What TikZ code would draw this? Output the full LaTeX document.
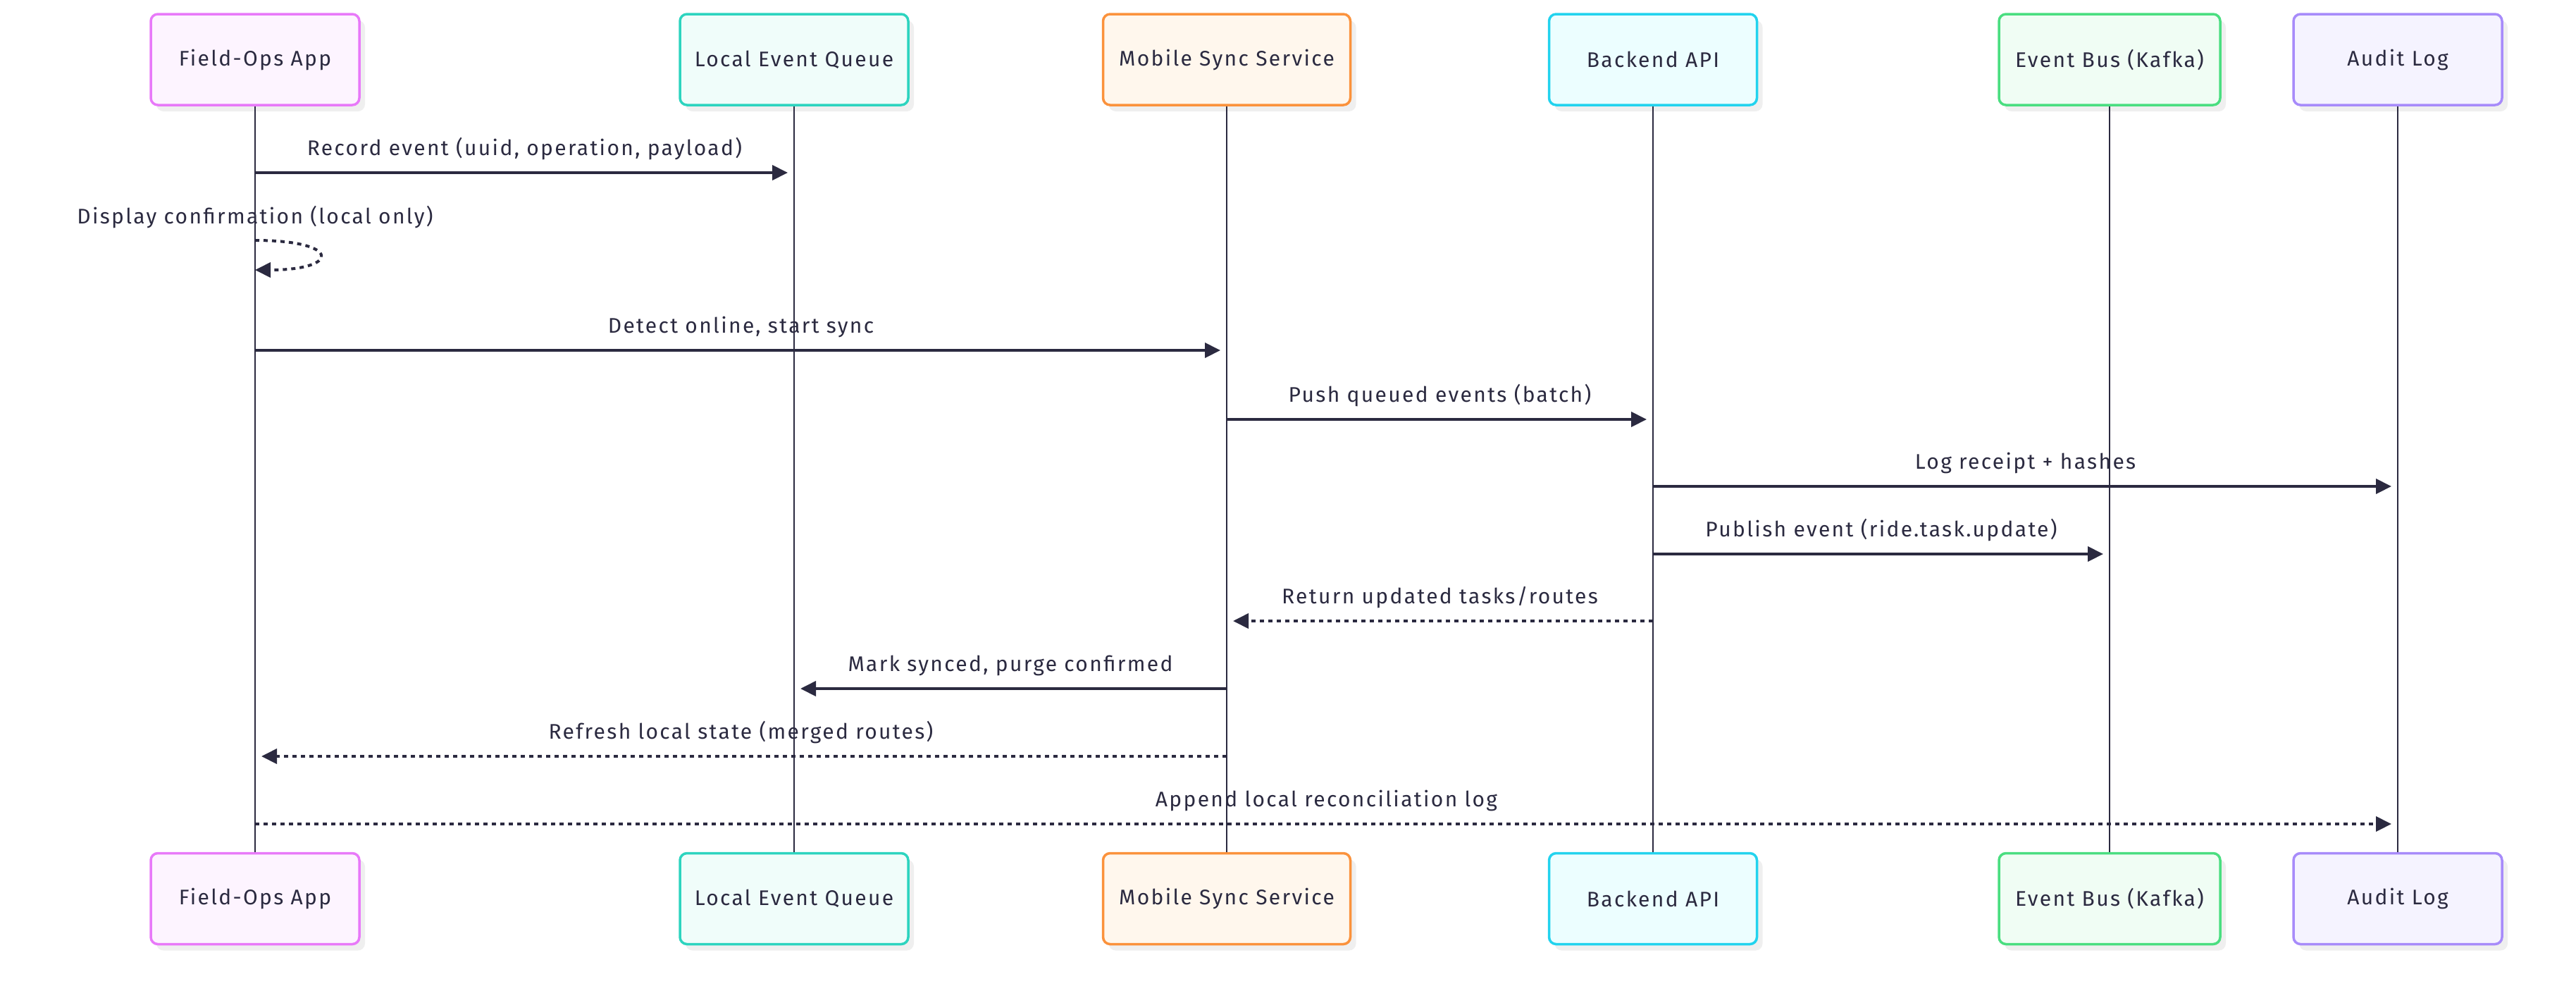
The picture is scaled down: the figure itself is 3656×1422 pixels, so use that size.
\documentclass[tikz,border=0pt]{standalone}
\usepackage{fontspec}
\setmainfont{Fira Sans}[LetterSpace=7.8]
\usetikzlibrary{arrows.meta,shadows,calc}

\definecolor{ink}{HTML}{2B2A40}
\definecolor{shade}{HTML}{EFEFEF}
\definecolor{appline}{HTML}{E879F9}
\definecolor{appfill}{HTML}{FDF4FF}
\definecolor{queueline}{HTML}{2DD4BF}
\definecolor{queuefill}{HTML}{F0FDFA}
\definecolor{syncline}{HTML}{FB923C}
\definecolor{syncfill}{HTML}{FFF7ED}
\definecolor{apiline}{HTML}{22D3EE}
\definecolor{apifill}{HTML}{ECFEFF}
\definecolor{busline}{HTML}{4ADE80}
\definecolor{busfill}{HTML}{F0FDF4}
\definecolor{auditline}{HTML}{A78BFA}
\definecolor{auditfill}{HTML}{F5F3FF}

\tikzset{
	actor/.style 2 args={draw=#1, fill=#2, line width=3.5pt, rounded corners=10pt,
		minimum height=129pt, text=ink,
		drop shadow={shadow xshift=8pt, shadow yshift=-9pt, fill=shade, opacity=1}},
	lifeline/.style={draw=ink, line width=2.5pt},
	msg/.style={draw=ink, line width=4pt, -{Triangle[length=22pt,width=21pt]}, shorten >=9pt},
	reply/.style={msg, dash pattern=on 6pt off 6pt},
	msgtext/.style={text=ink, anchor=base, yshift=25pt}
}

\begin{document}
\begin{tikzpicture}[x=1pt, y=-1pt, font=\fontsize{30}{36}\selectfont]
			%%%%% START %%%%%
			\useasboundingbox (0,0) rectangle (3656,1422);
			
			% actors, top row
			\node[actor={appline}{appfill}, minimum width=296pt] (app) at (362,84.5) {Field-Ops App};
			\node[actor={queueline}{queuefill}, minimum width=324pt] (queue) at (1127,84.5) {Local Event Queue};
			\node[actor={syncline}{syncfill}, minimum width=351pt] (sync) at (1741,84.5) {Mobile Sync Service};
			\node[actor={apiline}{apifill}, minimum width=295pt] (api) at (2346,84.5) {Backend API};
			\node[actor={busline}{busfill}, minimum width=314pt] (bus) at (2994,84.5) {Event Bus (Kafka)};
			\node[actor={auditline}{auditfill}, minimum width=296pt] (audit) at (3403,84.5) {Audit Log};
			
			% actors, bottom row
			\node[actor={appline}{appfill}, minimum width=296pt] (appB) at (362,1275) {Field-Ops App};
			\node[actor={queueline}{queuefill}, minimum width=324pt] (queueB) at (1127,1275) {Local Event Queue};
			\node[actor={syncline}{syncfill}, minimum width=351pt] (syncB) at (1741,1275) {Mobile Sync Service};
			\node[actor={apiline}{apifill}, minimum width=295pt] (apiB) at (2346,1275) {Backend API};
			\node[actor={busline}{busfill}, minimum width=314pt] (busB) at (2994,1275) {Event Bus (Kafka)};
			\node[actor={auditline}{auditfill}, minimum width=296pt] (auditB) at (3403,1275) {Audit Log};
			
			% lifelines
			\draw[lifeline] (app.south) -- (appB.north);
			\draw[lifeline] (queue.south) -- (queueB.north);
			\draw[lifeline] (sync.south) -- (syncB.north);
			\draw[lifeline] (api.south) -- (apiB.north);
			\draw[lifeline] (bus.south) -- (busB.north);
			\draw[lifeline] (audit.south) -- (auditB.north);
			
			% messages
			\draw[msg] (app.south |- 0,245) -- node[msgtext, midway] {Record event (uuid, operation, payload)} (queue.south |- 0,245);
			
			\node[text=ink, anchor=base] (selfnote) at (app.south |- 0,317) {Display confirmation (local only)};
			\draw[reply, shorten >=0pt] (app.south |- 0,341) .. controls +(122,0) and +(122,0) .. (app.south |- 0,383);
			
			\draw[msg] (app.south |- 0,497) -- node[msgtext, midway] {Detect online, start sync} (sync.south |- 0,497);
			\draw[msg] (sync.south |- 0,595) -- node[msgtext, midway] {Push queued events (batch)} (api.south |- 0,595);
			\draw[msg] (api.south |- 0,690) -- node[msgtext, midway] {Log receipt + hashes} (audit.south |- 0,690);
			\draw[msg] (api.south |- 0,786) -- node[msgtext, midway] {Publish event (ride.task.update)} (bus.south |- 0,786);
			\draw[reply] (api.south |- 0,881) -- node[msgtext, midway] {Return updated tasks/routes} (sync.south |- 0,881);
			\draw[msg] (sync.south |- 0,977) -- node[msgtext, midway] {Mark synced, purge confirmed} (queue.south |- 0,977);
			\draw[reply] (sync.south |- 0,1073) -- node[msgtext, midway] {Refresh local state (merged routes)} (app.south |- 0,1073);
			\draw[reply] (app.south |- 0,1169) -- node[msgtext, midway] {Append local reconciliation log} (audit.south |- 0,1169);
			
			%%%%% END %%%%%
		\end{tikzpicture}
\end{document}
